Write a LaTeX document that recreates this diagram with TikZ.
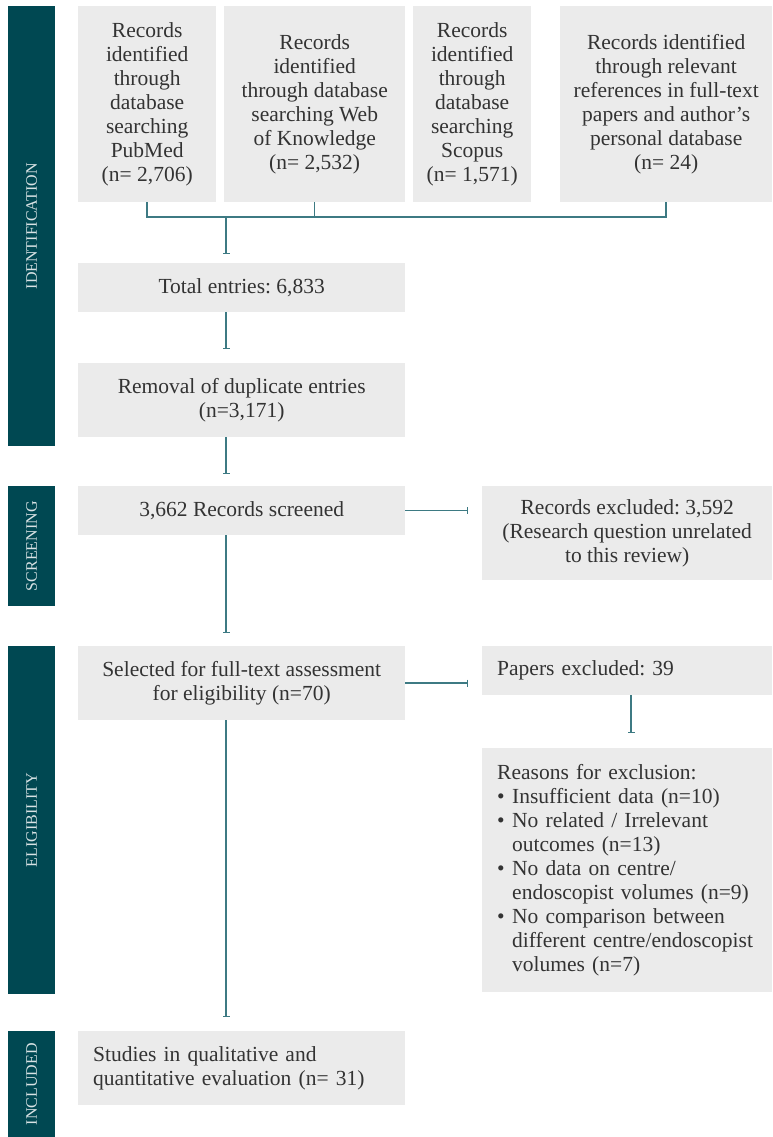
\documentclass[tikz,border=0pt]{standalone}
\usepackage{fontspec}
\setmainfont{Liberation Serif}
\usetikzlibrary{arrows.meta}
\frenchspacing
\definecolor{bandc}{HTML}{004852}
\definecolor{boxc}{HTML}{EBEBEB}
\definecolor{linec}{HTML}{3D7A83}
\definecolor{txtc}{HTML}{333333}
\definecolor{bandtxt}{HTML}{D8E2E4}
\tikzset{
  band/.style={fill=bandc, draw=none, anchor=north west, inner sep=0pt, minimum width=47pt},
  bandlabel/.style={rotate=90, text=bandtxt, font=\fontsize{16}{18}\selectfont},
  box/.style={fill=boxc, draw=none, anchor=north west, inner sep=0pt, text=txtc, align=center,
    font=\fontsize{21.5}{24}\selectfont},
  lbox/.style={box, align=left, inner xsep=15pt},
  conn/.style={draw=linec, line width=1.5pt, -{Bar[width=7pt,line width=1.5pt]}},
  plain/.style={draw=linec, line width=1.5pt}
}
\begin{document}
\begin{tikzpicture}[x=1pt,y=-1pt]
\useasboundingbox (0,0) rectangle (772,1137);
% side bands
\node[band, minimum height=440pt] (b1) at (8,6) {};
\node[band, minimum height=120pt] (b2) at (8,486) {};
\node[band, minimum height=348pt] (b3) at (8,646) {};
\node[band, minimum height=106pt] (b4) at (8,1031) {};
\node[bandlabel] (l1) at (b1.center) {IDENTIFICATION};
\node[bandlabel] (l2) at (b2.center) {SCREENING};
\node[bandlabel] (l3) at (b3.center) {ELIGIBILITY};
\node[bandlabel] (l4) at (b4.center) {INCLUDED};
% top boxes
\node[box, minimum width=138pt, minimum height=196pt] (pub) at (78,6)
  {Records\\identified\\through\\database\\searching\\PubMed\\(n= 2,706)};
\node[box, minimum width=181pt, minimum height=196pt] (wok) at (224,6)
  {Records\\identified\\through database\\searching Web\\of Knowledge\\(n= 2,532)};
\node[box, minimum width=118pt, minimum height=196pt] (sco) at (413,6)
  {Records\\identified\\through\\database\\searching\\Scopus\\(n= 1,571)};
\node[box, minimum width=212pt, minimum height=196pt] (ref) at (560,6)
  {Records identified\\through relevant\\references in full-text\\papers and author's\\personal database\\(n= 24)};
% main column
\node[box, minimum width=327pt, minimum height=49pt] (tot) at (78,263) {Total entries: 6,833};
\node[box, minimum width=327pt, minimum height=74pt] (rem) at (78,363) {Removal of duplicate entries\\(n=3,171)};
\node[box, minimum width=327pt, minimum height=49pt] (scr) at (78,486) {3,662 Records screened};
\node[box, minimum width=327pt, minimum height=74pt] (sel) at (78,646) {Selected for full-text assessment\\for eligibility (n=70)};
\node[lbox, text width=297pt, minimum height=74pt] (stu) at (78,1031) {Studies in qualitative and\\quantitative evaluation (n= 31)};
% right column
\node[box, minimum width=290pt, minimum height=94pt] (rex) at (482,486) {Records excluded: 3,592\\(Research question unrelated\\to this review)};
\node[lbox, text width=260pt, minimum height=49pt] (pex) at (482,646) {Papers excluded: 39};
\node[lbox, text width=260pt, minimum height=244pt] (rea) at (482,748)
  {Reasons for exclusion:\\
   \makebox[15pt][l]{\textbullet}Insufficient data (n=10)\\
   \makebox[15pt][l]{\textbullet}No related / Irrelevant\\
   \hspace*{15pt}outcomes (n=13)\\
   \makebox[15pt][l]{\textbullet}No data on centre/\\
   \hspace*{15pt}endoscopist volumes (n=9)\\
   \makebox[15pt][l]{\textbullet}No comparison between\\
   \hspace*{15pt}different centre/endoscopist\\
   \hspace*{15pt}volumes (n=7)};
% connectors
\coordinate (mx) at (226,217);
\draw[plain] (pub.south) |- (ref.south |- mx) -- (ref.south);
\draw[plain] (wok.south) -- (wok.south |- mx);
\draw[conn] (mx) -- ([yshift=9pt]tot.north -| mx);
\draw[conn] (tot.south -| mx) -- ([yshift=14pt]rem.north -| mx);
\draw[conn] (rem.south -| mx) -- ([yshift=12pt]scr.north -| mx);
\draw[conn] (scr.east) -- ([xshift=-14pt]rex.west |- scr.east);
\draw[conn] (scr.south -| mx) -- ([yshift=13pt]sel.north -| mx);
\draw[conn] (sel.east) -- ([xshift=-14pt]pex.west |- sel.east);
\coordinate (px) at (631,695);
\draw[conn] (px) -- ([yshift=15pt]rea.north -| px);
\draw[conn] (sel.south -| mx) -- ([yshift=14pt]stu.north -| mx);
\end{tikzpicture}
\end{document}
